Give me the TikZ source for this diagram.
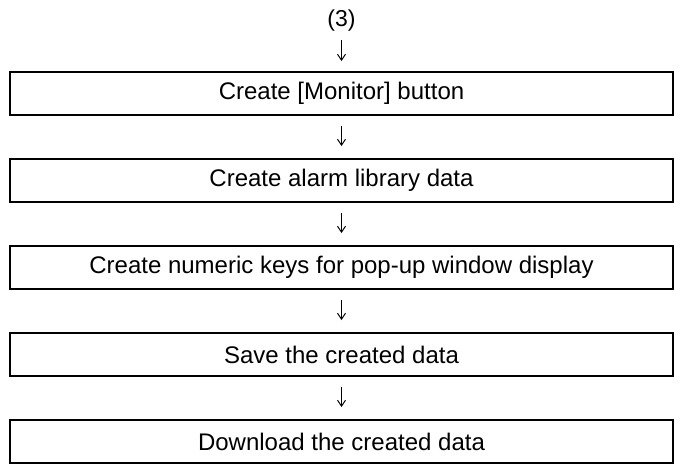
\documentclass[tikz,border=0pt]{standalone}
\usepackage{fontspec}
\setmainfont{Liberation Sans}
\usetikzlibrary{arrows.meta}
\begin{document}
\begin{tikzpicture}[x=1pt,y=1pt,
  stepbox/.style={draw=black,line width=1.8pt,minimum width=663pt,minimum height=43pt,inner sep=0pt,
    font=\fontsize{24}{28}\selectfont},
  flow/.style={line width=1pt,-{Straight Barb[length=6pt,width=8pt,line width=1pt]}}]
\useasboundingbox (0,0) rectangle (683,-464);
\node[font=\fontsize{23}{27}\selectfont,inner sep=0pt] (t) at (341.5,-21) {(3)};
\node[stepbox] (b1) at (341.5,-93.5) {Create [Monitor] button};
\node[stepbox] (b2) at (341.5,-180.5) {Create alarm library data};
\node[stepbox] (b3) at (341.5,-267.5) {Create numeric keys for pop-up window display};
\node[stepbox] (b4) at (341.5,-354.5) {Save the created data};
\node[stepbox] (b5) at (341.5,-441.5) {Download the created data};
\draw[flow] ([yshift=-19pt]t.center) -- ([yshift=10pt]b1.north);
\draw[flow] ([yshift=-10pt]b1.south) -- ([yshift=12pt]b2.north);
\draw[flow] ([yshift=-10pt]b2.south) -- ([yshift=12pt]b3.north);
\draw[flow] ([yshift=-10pt]b3.south) -- ([yshift=12pt]b4.north);
\draw[flow] ([yshift=-10pt]b4.south) -- ([yshift=12pt]b5.north);
\end{tikzpicture}
\end{document}
